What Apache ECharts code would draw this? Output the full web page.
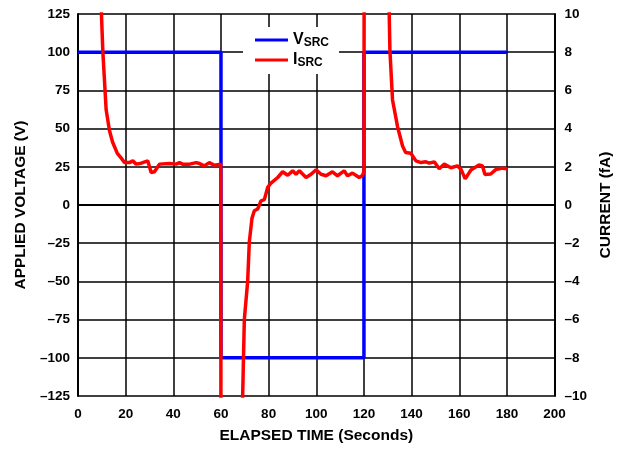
<!DOCTYPE html>
<html>
<head>
    <meta charset="utf-8"/>
    <title>VSRC / ISRC</title>
    <style>
        html, body { margin: 0; padding: 0; background: #fff; }
        #chart { width: 622px; height: 449px; }
    </style>
</head>
<body>
<div id="chart"></div>
<script src="https://cdn.jsdelivr.net/npm/echarts@6/dist/echarts.min.js"></script>
<script>
    // 源电压 (left axis, V)
    var timeV = [0, 60, 60, 120, 120, 180];
    var voltV = [100, 100, -100, -100, 100, 100];

    // 源电流 (right axis, fA) - values outside the range are clipped by the grid
    var timeI = [9.1, 10.4, 11.8, 13.2, 14.5, 16.5, 18.5, 19.5, 21.6, 23, 24.4, 26.5, 29.3, 30.7, 32.1, 34.2,
        38.4, 41.2, 42.6, 43.9, 46.8, 49.6, 51, 53, 55.1, 57.2, 59.9, 60, 68.4,
        69.8, 71.2, 71.9, 73, 74, 75.4, 76.8, 78.2, 79.6, 81, 83.8, 85.9, 88, 90.1, 91.5, 92.9, 95.7,
        97.8, 99.9, 102, 104.1, 106.8, 108.9, 111.7, 113.1, 115.2, 118, 119.4, 120, 120.1, 130,
        130.9, 132, 134.1, 136.2, 137.5, 139.7, 141.8, 143.9, 146, 147.4, 149.5, 151.6, 153.7, 156.5,
        159.2, 160.7, 162.5, 164.9, 168.3, 169.7, 170.8, 173.2, 175.3, 178.1, 180.2];
    var currI = [12.5, 8.1, 5.0, 3.9, 3.3, 2.7, 2.4, 2.22, 2.22, 2.31, 2.14, 2.19, 2.31, 1.70, 1.74, 2.14,
        2.17, 2.14, 2.22, 2.14, 2.14, 2.22, 2.17, 2.05, 2.22, 2.08, 2.14, -14, -14,
        -6.0, -4.0, -1.93, -0.7, -0.3, -0.21, 0.22, 0.28, 0.92, 1.15, 1.44, 1.74, 1.56, 1.79, 1.61, 1.79, 1.44,
        1.61, 1.84, 1.61, 1.53, 1.74, 1.53, 1.79, 1.53, 1.67, 1.44, 1.55, 1.75, 14, 14,
        8.1, 5.5, 4.1, 3.09, 2.75, 2.71, 2.31, 2.22, 2.26, 2.19, 2.26, 1.9, 2.14, 1.95,
        2.05, 1.88, 1.37, 1.83, 2.1, 2.05, 1.6, 1.62, 1.85, 1.93, 1.9];

    var fontFam = '"Liberation Sans", Arial, sans-serif';

    function toPairs(xs, ys) {
        var out = [];
        for (var i = 0; i < xs.length; i++) {
            out.push([xs[i], ys[i]]);
        }
        return out;
    }

    function dash(v) {
        return v < 0 ? '\u2013' + Math.abs(v) : String(v);
    }

    var labelStyle = {color: '#000', fontWeight: 'bold', fontSize: 13.5, fontFamily: fontFam};
    var nameStyle = {color: '#000', fontWeight: 'bold', fontSize: 15.5, fontFamily: fontFam};

    var option = {
        animation: false,
        grid: {left: 78, right: 66, top: 14, bottom: 51},
        legend: {
            left: 243,
            top: 27,
            orient: 'vertical',
            backgroundColor: '#fff',
            padding: [5, 10, 5, 12],
            itemGap: 3,
            itemWidth: 33,
            itemHeight: 3,
            icon: 'rect',
            data: ['VSRC', 'ISRC'],
            formatter: function (name) {
                return '{m|' + name.charAt(0) + '}{s|' + name.slice(1) + '}';
            },
            textStyle: {
                fontFamily: fontFam,
                rich: {
                    m: {fontSize: 16, fontWeight: 'bold', color: '#000', fontFamily: fontFam},
                    s: {fontSize: 12, fontWeight: 'bold', color: '#000', fontFamily: fontFam, padding: [6, 0, 0, 0]}
                }
            }
        },
        xAxis: {
            type: 'value',
            min: 0,
            max: 200,
            interval: 20,
            name: 'ELAPSED TIME (Seconds)',
            nameLocation: 'middle',
            nameGap: 32,
            nameTextStyle: nameStyle,
            axisLine: {lineStyle: {color: '#000', width: 2}},
            axisTick: {show: false},
            axisLabel: Object.assign({margin: 11}, labelStyle),
            splitLine: {lineStyle: {color: '#000', width: 1.5}}
        },
        yAxis: [
            {
                type: 'value',
                min: -125,
                max: 125,
                interval: 25,
                name: 'APPLIED VOLTAGE (V)',
                nameLocation: 'middle',
                nameGap: 46,
                nameTextStyle: nameStyle,
                axisLine: {show: true, lineStyle: {color: '#000', width: 2}},
                axisTick: {show: false},
                axisLabel: Object.assign({margin: 8, formatter: dash}, labelStyle),
                splitLine: {lineStyle: {color: '#000', width: 1.5}}
            },
            {
                type: 'value',
                min: -10,
                max: 10,
                interval: 2,
                name: 'CURRENT (fA)',
                nameLocation: 'middle',
                nameGap: 42,
                nameRotate: 90,
                nameTextStyle: nameStyle,
                axisLine: {show: true, lineStyle: {color: '#000', width: 2}},
                axisTick: {show: false},
                axisLabel: Object.assign({margin: 10, formatter: dash}, labelStyle),
                splitLine: {show: false}
            }
        ],
        series: [
            {
                name: 'VSRC',
                type: 'line',
                yAxisIndex: 0,
                showSymbol: false,
                symbol: 'none',
                clip: true,
                color: '#0000ff',
                lineStyle: {color: '#0000ff', width: 3.5},
                data: toPairs(timeV, voltV)
            },
            {
                name: 'ISRC',
                type: 'line',
                yAxisIndex: 1,
                showSymbol: false,
                symbol: 'none',
                clip: true,
                color: '#ff0000',
                lineStyle: {color: '#ff0000', width: 3.5},
                data: toPairs(timeI, currI)
            }
        ]
    };

    var myChart = echarts.init(document.getElementById('chart'));
    myChart.setOption(option);
</script>
</body>
</html>
